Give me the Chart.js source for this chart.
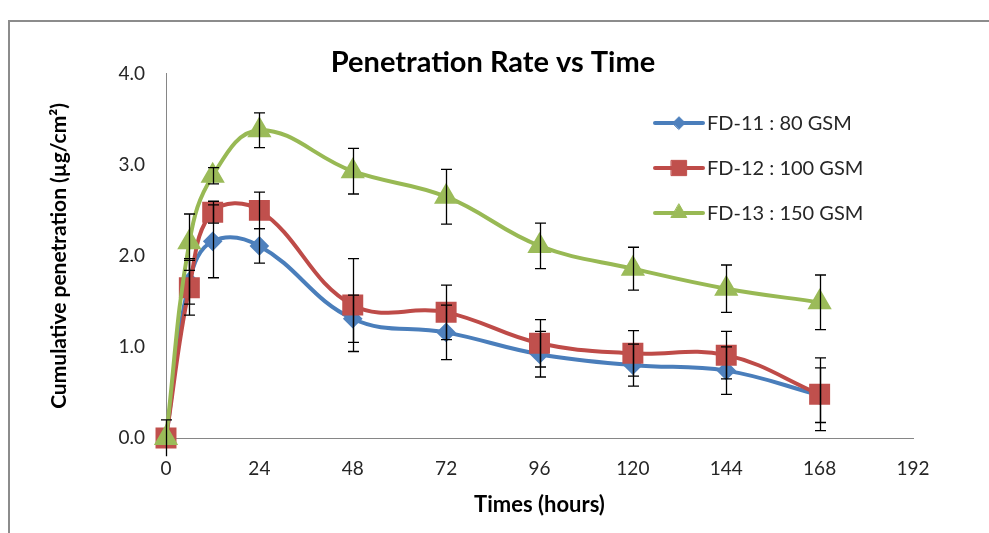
<!DOCTYPE html>
<html>
<head>
<meta charset="utf-8">
<script src="https://cdn.jsdelivr.net/npm/chart.js@4"></script>
<style>
  html, body { margin: 0; padding: 0; background: #fff; overflow: hidden; }
  #wrap { position: relative; width: 989px; height: 533px; }
  #frame { position: absolute; left: 8px; top: 20px; width: 1200px; height: 800px;
           border-left: 2px solid #8c8c8c; border-top: 2px solid #8c8c8c; pointer-events: none; }
  canvas { position: absolute; left: 0; top: 0; }
</style>
</head>
<body>
<div id="wrap">
  <div id="frame"></div>
  <canvas id="myChart" width="989" height="533"></canvas>
</div>
<script>
// time points (hours)
const times = [0, 6, 12, 24, 48, 72, 96, 120, 144, 168];

// cumulative penetration, µg/cm²
const fd11 = [0, 1.72, 2.16, 2.11, 1.31, 1.16, 0.92, 0.80, 0.74, 0.47];
const fd12 = [0, 1.65, 2.48, 2.50, 1.46, 1.38, 1.04, 0.93, 0.91, 0.48];
const fd13 = [0, 2.15, 2.88, 3.38, 2.93, 2.65, 2.11, 1.86, 1.64, 1.49];

// error bar half-lengths
const fd11Err = [0, 0.25, 0.40, 0.19, 0.26, 0.30, 0.25, 0.23, 0.26, 0.30];
const fd12Err = [0, 0.30, 0.12, 0.20, 0.51, 0.30, 0.26, 0.25, 0.26, 0.40];
const fd13Err = [0.2, 0.31, 0.09, 0.19, 0.25, 0.30, 0.25, 0.235, 0.26, 0.30];

const seriesNames = ["FD-11 : 80 GSM", "FD-12 : 100 GSM", "FD-13 : 150 GSM"];
const xTicks = [0, 24, 48, 72, 96, 120, 144, 168, 192];
const yTicks = [0, 1, 2, 3, 4];

function points(vals) {
  return times.map((t, i) => ({ x: t, y: vals[i] }));
}

// error bars drawn over the lines, through the scales
const errorBars = {
  id: "errorBars",
  afterDatasetsDraw(chart) {
    const ctx = chart.ctx;
    const xs = chart.scales.x, ys = chart.scales.y;
    ctx.save();
    ctx.strokeStyle = "#000";
    ctx.lineWidth = 1.3;
    chart.data.datasets.forEach(ds => {
      ds.data.forEach((p, i) => {
        const e = ds.errors[i];
        if (!e) return;
        const px = Math.round(xs.getPixelForValue(p.x)) + 0.5;
        const top = ys.getPixelForValue(p.y + e);
        const bot = ys.getPixelForValue(Math.max(p.y - e, -0.2));
        ctx.beginPath();
        ctx.moveTo(px, top); ctx.lineTo(px, bot);
        ctx.moveTo(px - 5.5, top); ctx.lineTo(px + 5.5, top);
        if (p.y - e >= 0) { ctx.moveTo(px - 5.5, bot); ctx.lineTo(px + 5.5, bot); }
        ctx.stroke();
      });
    });
    ctx.restore();
  }
};

// legend inside the plot, top right
const sideLegend = {
  id: "sideLegend",
  afterDraw(chart) {
    const ctx = chart.ctx;
    const x0 = 655, y0 = 123, gap = 45;
    ctx.save();
    chart.data.datasets.forEach((ds, i) => {
      const y = y0 + i * gap;
      ctx.strokeStyle = ds.borderColor;
      ctx.lineWidth = 4;
      ctx.lineCap = "round";
      ctx.beginPath();
      ctx.moveTo(x0, y); ctx.lineTo(x0 + 48, y);
      ctx.stroke();
      ctx.fillStyle = ds.pointBackgroundColor;
      ctx.strokeStyle = ds.pointBackgroundColor;
      ctx.lineWidth = 1;
      Chart.helpers.drawPoint(ctx, {
        pointStyle: ds.pointStyle,
        radius: ds.pointRadius * 0.9,
        borderWidth: 1
      }, x0 + 24, y);
      ctx.fillStyle = "#262626";
      ctx.font = "20px Lato";
      ctx.textBaseline = "middle";
      ctx.textAlign = "left";
      ctx.fillText(ds.label, x0 + 52, y + 1);
    });
    ctx.restore();
  }
};

const ctx = document.getElementById("myChart").getContext("2d");

new Chart(ctx, {
  type: "line",
  data: {
    datasets: [
      {
        label: seriesNames[0],
        data: points(fd11),
        errors: fd11Err,
        borderColor: "#4A7EBB",
        backgroundColor: "#4F81BD",
        pointBackgroundColor: "#4F81BD",
        pointBorderColor: "#4F81BD",
        pointStyle: "rectRot",
        pointRadius: 7,
        borderWidth: 4,
        tension: 0.4,
        order: 3
      },
      {
        label: seriesNames[1],
        data: points(fd12),
        errors: fd12Err,
        borderColor: "#BE4B48",
        backgroundColor: "#C0504D",
        pointBackgroundColor: "#C0504D",
        pointBorderColor: "#C0504D",
        pointStyle: "rect",
        pointRadius: 12,
        borderWidth: 4,
        tension: 0.4,
        order: 2
      },
      {
        label: seriesNames[2],
        data: points(fd13),
        errors: fd13Err,
        borderColor: "#98B954",
        backgroundColor: "#9BBB59",
        pointBackgroundColor: "#9BBB59",
        pointBorderColor: "#9BBB59",
        pointStyle: "triangle",
        pointRadius: 10,
        borderWidth: 4,
        tension: 0.4,
        order: 1
      }
    ]
  },
  options: {
    responsive: false,
    animation: false,
    clip: false,
    layout: { padding: { left: 73, right: 76, top: 0, bottom: 0 } },
    plugins: {
      legend: { display: false },
      tooltip: { enabled: false },
      title: {
        display: true,
        text: "Penetration Rate vs Time",
        color: "#000",
        font: { family: "Lato", size: 29, weight: "bold", lineHeight: 1.2 },
        padding: { top: 45, bottom: -6 }
      }
    },
    scales: {
      x: {
        type: "linear",
        min: 0,
        max: 192,
        afterBuildTicks: s => { s.ticks = xTicks.map(v => ({ value: v })); },
        afterFit: s => { s.height = 95; },
        grid: { display: false, drawTicks: false },
        border: { display: true, color: "#868686", width: 1 },
        ticks: { color: "#262626", padding: 19, font: { family: "Lato", size: 19 } },
        title: {
          display: true,
          text: "Times (hours)",
          color: "#000",
          font: { family: "Lato", size: 22, weight: "bold" },
          padding: { top: 0, bottom: 15 }
        }
      },
      y: {
        min: 0,
        max: 4,
        afterBuildTicks: s => { s.ticks = yTicks.map(v => ({ value: v })); },
        afterFit: s => { s.width = 93; },
        grid: { display: false, drawTicks: false },
        border: { display: true, color: "#868686", width: 1 },
        ticks: {
          color: "#262626",
          padding: 21,
          font: { family: "Lato", size: 19 },
          callback: v => v.toFixed(1)
        },
        title: {
          display: true,
          text: "Cumulative penetration (µg/cm²)",
          color: "#000",
          font: { family: "Lato", size: 21, weight: "bold" },
          padding: { top: -26, bottom: 0 }
        }
      }
    }
  },
  plugins: [errorBars, sideLegend]
});
</script>
</body>
</html>
